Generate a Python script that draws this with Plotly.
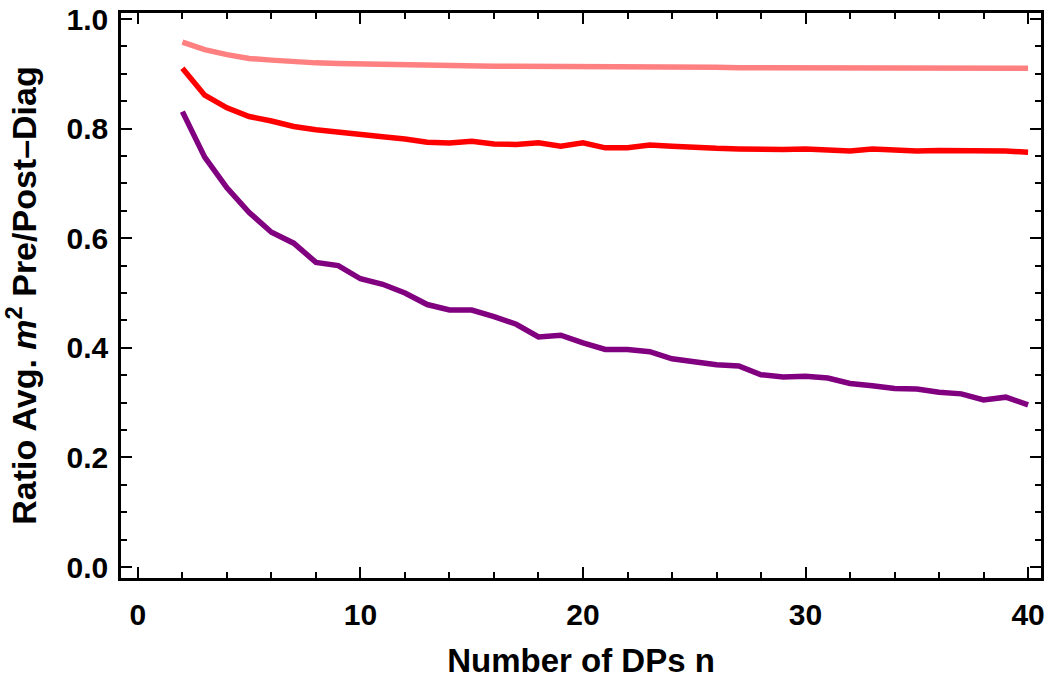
import plotly.graph_objects as go

n_values = list(range(2, 41))

ratio_light = [0.958, 0.944, 0.935, 0.928, 0.925, 0.922, 0.920, 0.919, 0.918, 0.917,
               0.916, 0.916, 0.915, 0.915, 0.914, 0.914, 0.914, 0.913, 0.913, 0.913,
               0.912, 0.912, 0.912, 0.912, 0.912, 0.911, 0.911, 0.911, 0.911, 0.911,
               0.911, 0.911, 0.910, 0.910, 0.910, 0.910, 0.910, 0.910, 0.910]

ratio_red = [0.910, 0.861, 0.838, 0.822, 0.814, 0.804, 0.798, 0.793, 0.788, 0.785,
             0.781, 0.775, 0.774, 0.777, 0.772, 0.771, 0.774, 0.768, 0.774, 0.765,
             0.765, 0.770, 0.768, 0.765, 0.764, 0.763, 0.762, 0.762, 0.763, 0.762,
             0.759, 0.763, 0.761, 0.759, 0.760, 0.760, 0.760, 0.759, 0.757]

ratio_purple = [0.831, 0.748, 0.692, 0.647, 0.611, 0.591, 0.556, 0.550, 0.526, 0.516,
                0.500, 0.479, 0.469, 0.469, 0.457, 0.443, 0.420, 0.423, 0.409, 0.397,
                0.397, 0.393, 0.380, 0.375, 0.369, 0.367, 0.351, 0.347, 0.348, 0.345,
                0.335, 0.331, 0.326, 0.325, 0.319, 0.316, 0.305, 0.310, 0.296]

x_ticks = [0, 10, 20, 30, 40]
y_ticks = [0.0, 0.2, 0.4, 0.6, 0.8, 1.0]

series = [
    (ratio_light, "rgb(255,128,128)"),
    (ratio_red, "rgb(255,0,0)"),
    (ratio_purple, "rgb(128,0,128)"),
]

fig = go.Figure()
for vals, col in series:
    fig.add_trace(go.Scatter(x=n_values, y=vals, mode="lines",
                             line=dict(color=col, width=5.5), showlegend=False))

font_family = "Liberation Sans, Arial, sans-serif"
axis_common = dict(
    showline=True, linecolor="black", linewidth=2.5, mirror="allticks",
    ticks="inside", ticklen=11, tickwidth=2.2, tickcolor="black",
    showgrid=False, zeroline=False, ticklabeloverflow="allow", automargin=False,
    tickfont=dict(family=font_family, size=30, color="black", weight="bold"),
)

fig.update_xaxes(
    range=[-0.76, 40.58], tickvals=x_ticks, ticklabelstandoff=8,
    minor=dict(dtick=2, ticks="inside", ticklen=6, tickwidth=1.8, tickcolor="black"),
    title=dict(text="Number of DPs n", standoff=20,
               font=dict(family=font_family, size=33, color="black", weight="bold")),
    **axis_common,
)
fig.update_yaxes(
    range=[-0.02, 1.011], tickvals=y_ticks, tickformat=".1f", ticklabelstandoff=4,
    minor=dict(dtick=0.05, ticks="inside", ticklen=6, tickwidth=1.8, tickcolor="black"),
    title=dict(text="Ratio Avg. <i>m</i><sup>2</sup> Pre/Post\u2013Diag", standoff=22,
               font=dict(family=font_family, size=34, color="black", weight="bold")),
    **axis_common,
)

fig.update_layout(
    width=1046, height=679,
    margin=dict(l=121, r=5, t=13, b=101),
    plot_bgcolor="white", paper_bgcolor="white",
)

fig.write_html("out.html")
